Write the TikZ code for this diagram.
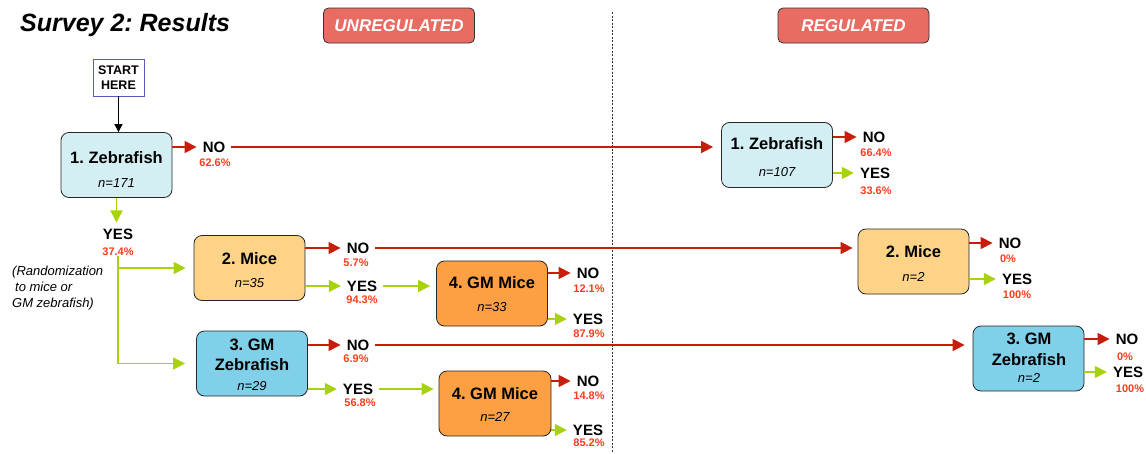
\documentclass[tikz,border=0pt]{standalone}
\usepackage{fontspec}
\setmainfont{Liberation Sans}
\frenchspacing
\usetikzlibrary{arrows.meta}
\definecolor{noRed}{HTML}{C61E0B}
\definecolor{yesGreen}{HTML}{A8D20C}
\definecolor{pctRed}{HTML}{FF3B1E}
\definecolor{fishLight}{HTML}{D3EFF4}
\definecolor{fishBlue}{HTML}{80D0EA}
\definecolor{miceLight}{HTML}{FDD387}
\definecolor{miceOrange}{HTML}{FCA043}
\definecolor{headRed}{HTML}{E86C62}
\definecolor{startBlue}{HTML}{5A5ABE}

\begin{document}
\begin{tikzpicture}[x=1pt,y=-1pt,
  box/.style={draw=black!85,rounded corners=8pt,minimum width=111pt,minimum height=65pt,inner sep=0pt,line width=0.8pt},
  ttl/.style={font=\fontsize{16.5}{20.5}\selectfont\bfseries,inner sep=0pt},
  cnt/.style={font=\fontsize{13}{15}\selectfont\itshape,inner sep=0pt},
  ans/.style={font=\fontsize{15}{17}\selectfont\bfseries,inner sep=6pt},
  pct/.style={font=\fontsize{11}{13}\selectfont\bfseries,text=pctRed,inner sep=0pt},
  head/.style={draw=black!80,fill=headRed,rounded corners=5pt,minimum width=151pt,minimum height=35pt,line width=0.8pt,text=white,font=\fontsize{17}{20}\selectfont\bfseries\itshape},
  noarr/.style={draw=noRed,line width=1.6pt,-{Triangle[length=12pt,width=12pt]}},
  yesarr/.style={draw=yesGreen,line width=1.6pt,-{Triangle[length=12pt,width=12pt]}}]
\useasboundingbox (0,0) rectangle (1146,453);
\draw[black!80,line width=0.7pt,dash pattern=on 2pt off 1.5pt] (612,12) -- (612,453);
\node[anchor=base west,inner sep=0pt,font=\fontsize{25}{30}\selectfont\bfseries\itshape] (title) at (20,31) {Survey 2: Results};
\node[head] (unreg) at (399,25.5) {UNREGULATED};
\node[head] (reg) at (853.5,25.5) {REGULATED};
\node[draw=startBlue,fill=white,line width=0.8pt,minimum width=51pt,minimum height=37pt,inner sep=1pt,align=center,font=\fontsize{12.5}{15}\selectfont\bfseries] (start) at (118.5,77.5) {START\\HERE};
\node[anchor=north west,inner sep=0pt,align=left,font=\fontsize{13}{16}\selectfont\itshape] (rand) at (12,266) {(Randomization\\\hspace{3pt}to mice or\\GM zebrafish)};

\node[box,fill=fishLight] (z1) at (116.5,165) {};
\node[ttl] (z1t) at (116.5,158) {1. Zebrafish};
\node[cnt] (z1n) at (116.5,183) {n=171};
\node[ans] (z1no) at (214,147) {NO};
\node[pct] (z1nop) at (215,163) {62.6\%};
\node[ans] (z1yes) at (118,234) {YES};
\node[pct] (z1yesp) at (118,252) {37.4\%};

\node[box,fill=miceLight] (m1) at (249.5,268) {};
\node[ttl] (m1t) at (249.5,259) {2. Mice};
\node[cnt] (m1n) at (249.5,283) {n=35};
\node[ans] (m1no) at (358,248) {NO};
\node[pct] (m1nop) at (356,263) {5.7\%};
\node[ans] (m1yes) at (362,286) {YES};
\node[pct] (m1yesp) at (362,300) {94.3\%};

\node[box,fill=miceOrange] (gm1) at (492,293.5) {};
\node[ttl] (gm1t) at (492,283) {4. GM Mice};
\node[cnt] (gm1n) at (492,307) {n=33};
\node[ans] (gm1no) at (588,273) {NO};
\node[pct] (gm1nop) at (589,289) {12.1\%};
\node[ans] (gm1yes) at (588,319) {YES};
\node[pct] (gm1yesp) at (589,334) {87.9\%};

\node[box,fill=fishBlue] (gz) at (252,363.5) {};
\node[ttl,align=center] (gzt) at (252,355) {3. GM\\Zebrafish};
\node[cnt] (gzn) at (252,386) {n=29};
\node[ans] (gzno) at (358,345) {NO};
\node[pct] (gznop) at (356,359) {6.9\%};
\node[ans] (gzyes) at (358,389) {YES};
\node[pct] (gzyesp) at (360,403) {56.8\%};

\node[box,fill=miceOrange,minimum width=112pt] (gm2) at (495,403.5) {};
\node[ttl] (gm2t) at (495,394) {4. GM Mice};
\node[cnt] (gm2n) at (495,417) {n=27};
\node[ans] (gm2no) at (588,381) {NO};
\node[pct] (gm2nop) at (589,396) {14.8\%};
\node[ans] (gm2yes) at (588,430) {YES};
\node[pct] (gm2yesp) at (589,443) {85.2\%};

\node[box,fill=fishLight] (r1) at (777,155) {};
\node[ttl] (r1t) at (777,144) {1. Zebrafish};
\node[cnt] (r1n) at (777,172) {n=107};
\node[ans] (r1no) at (874,137) {NO};
\node[pct] (r1nop) at (876,153) {66.4\%};
\node[ans] (r1yes) at (875,173) {YES};
\node[pct] (r1yesp) at (876,191) {33.6\%};

\node[box,fill=miceLight] (r2) at (913.5,261.5) {};
\node[ttl] (r2t) at (913.5,252) {2. Mice};
\node[cnt] (r2n) at (913.5,277) {n=2};
\node[ans] (r2no) at (1010,243) {NO};
\node[pct] (r2nop) at (1008,259) {0\%};
\node[ans] (r2yes) at (1017,279) {YES};
\node[pct] (r2yesp) at (1017,295) {100\%};

\node[box,fill=fishBlue] (r3) at (1028.5,358.5) {};
\node[ttl,align=center,font=\fontsize{16.5}{21}\selectfont\bfseries] (r3t) at (1029,349.5) {3. GM\\Zebrafish};
\node[cnt] (r3n) at (1029,378) {n=2};
\node[ans] (r3no) at (1127,339) {NO};
\node[pct] (r3nop) at (1125,357) {0\%};
\node[ans] (r3yes) at (1128,372) {YES};
\node[pct] (r3yesp) at (1130,389) {100\%};

\draw[line width=0.9pt,-{Triangle[length=8pt,width=8pt]}] (start.south) -- (start.south |- z1.north);
\draw[noarr] (z1.east |- z1no) -- (z1no.west);
\draw[noarr,shorten >=8pt] (z1no.east) -- (z1no.east -| r1.west);
\draw[yesarr] (z1.south) -- (z1.south |- z1yes.north);
\draw[yesarr,shorten >=8pt] (z1yesp.south |- m1.west) -- (m1.west);
\draw[yesarr,shorten >=11pt] (z1yesp.south) |- (gz.west);
\draw[noarr] (m1.east |- m1no) -- (m1no.west);
\draw[yesarr] (m1.east |- m1yes) -- (m1yes.west);
\draw[noarr,shorten >=5pt] (m1no.east) -- (m1no.east -| r2.west);
\draw[yesarr,shorten >=6pt] (m1yes.east) -- (m1yes.east -| gm1.west);
\draw[noarr] (gm1.east |- gm1no) -- (gm1no.west);
\draw[yesarr] (gm1.east |- gm1yes) -- (gm1yes.west);
\draw[noarr] (gz.east |- gzno) -- (gzno.west);
\draw[yesarr] (gz.east |- gzyes) -- (gzyes.west);
\draw[noarr,shorten >=8pt] (gzno.east) -- (gzno.east -| r3.west);
\draw[yesarr,shorten >=5pt] (gzyes.east) -- (gzyes.east -| gm2.west);
\draw[noarr] (gm2.east |- gm2no) -- (gm2no.west);
\draw[yesarr] (gm2.east |- gm2yes) -- (gm2yes.west);
\draw[noarr] (r1.east |- r1no) -- (r1no.west);
\draw[yesarr] (r1.east |- r1yes) -- (r1yes.west);
\draw[noarr] (r2.east |- r2no) -- (r2no.west);
\draw[yesarr] (r2.east |- r2yes) -- (r2yes.west);
\draw[noarr] (r3.east |- r3no) -- (r3no.west);
\draw[yesarr] (r3.east |- r3yes) -- (r3yes.west);
\end{tikzpicture}
\end{document}
